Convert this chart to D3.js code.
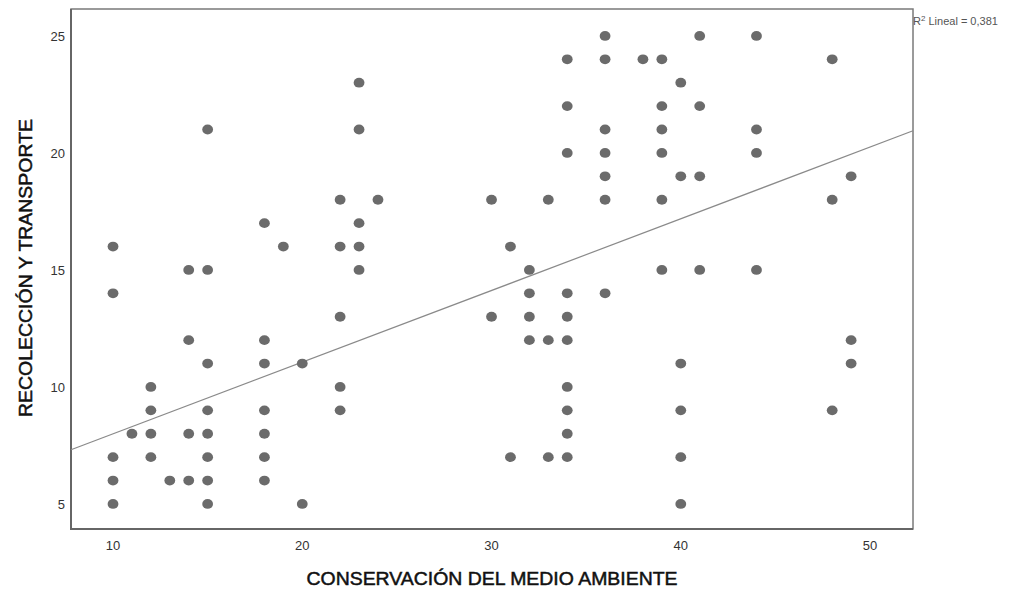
<!DOCTYPE html>
<html>
<head>
<meta charset="utf-8">
<script src="https://cdn.jsdelivr.net/npm/d3@7"></script>
<style>
  body { margin: 0; background: #fff; }
  svg { display: block; font-family: "Liberation Sans", Arial, sans-serif; }
</style>
</head>
<body>
<script>
// valores de CONSERVACIÓN DEL MEDIO AMBIENTE (eje x)
let conservacion = [10, 11, 12, 13, 14, 15, 18, 19, 20, 22, 23, 24, 30, 31, 32, 33, 34, 36, 38, 39, 40, 41, 44, 48, 49];
// valores de RECOLECCIÓN Y TRANSPORTE para cada x
let recoleccion = [
    [16, 14, 7, 6, 5],
    [8],
    [10, 9, 8, 7],
    [6],
    [15, 12, 8, 6],
    [21, 15, 11, 9, 8, 7, 6, 5],
    [17, 12, 11, 9, 8, 7, 6],
    [16],
    [11, 5],
    [18, 16, 13, 10, 9],
    [23, 21, 17, 16, 15],
    [18],
    [18, 13],
    [16, 7],
    [15, 14, 13, 12],
    [18, 12, 7],
    [24, 22, 20, 14, 13, 12, 10, 9, 8, 7],
    [25, 24, 21, 20, 19, 18, 14],
    [24],
    [24, 22, 21, 20, 18, 15],
    [23, 19, 11, 9, 7, 5],
    [25, 22, 19, 15],
    [25, 21, 20, 15],
    [24, 18, 9],
    [19, 12, 11]
];
let xTicks = [10, 20, 30, 40, 50];
let yTicks = [5, 10, 15, 20, 25];
// ajuste lineal
let intercepto = 4.93;
let pendiente = 0.3064;
let r2Texto = "Lineal = 0,381";

let puntos = [];
conservacion.forEach((x, i) => recoleccion[i].forEach(y => puntos.push({ x: x, y: y })));

let width = 1022;
let height = 593;
let mLeft = 71, mRight = 913, mTop = 9, mBottom = 529;

let svg = d3.select("body")
    .append("svg")
    .attr("width", width)
    .attr("height", height);

let scaleX = d3.scaleLinear()
    .domain([7.78, 52.27])
    .range([mLeft, mRight]);
let scaleY = d3.scaleLinear()
    .domain([3.93, 26.15])
    .range([mBottom, mTop]);

// marco
svg.append("rect")
    .attr("x", mLeft).attr("y", mTop)
    .attr("width", mRight - mLeft).attr("height", mBottom - mTop)
    .attr("fill", "none")
    .attr("stroke", "#7a7a7a")
    .attr("stroke-width", 1.5);
svg.append("path")
    .attr("d", `M${mLeft},${mTop}V${mBottom}H${mRight}`)
    .attr("fill", "none")
    .attr("stroke", "#666")
    .attr("stroke-width", 2);

// etiquetas de los ejes
svg.append("g").selectAll("text")
    .data(xTicks)
    .join("text")
    .attr("x", d => scaleX(d))
    .attr("y", 550)
    .attr("text-anchor", "middle")
    .attr("font-size", 13)
    .attr("fill", "#333")
    .text(d => d);
svg.append("g").selectAll("text")
    .data(yTicks)
    .join("text")
    .attr("x", 65)
    .attr("y", d => scaleY(d) + 5)
    .attr("text-anchor", "end")
    .attr("font-size", 13)
    .attr("fill", "#333")
    .text(d => d);

// línea de ajuste
let x0 = scaleX.domain()[0], x1 = scaleX.domain()[1];
svg.append("line")
    .attr("x1", scaleX(x0)).attr("y1", scaleY(intercepto + pendiente * x0))
    .attr("x2", scaleX(x1)).attr("y2", scaleY(intercepto + pendiente * x1))
    .attr("stroke", "#8a8a8a")
    .attr("stroke-width", 1.2);

// puntos
svg.append("g").selectAll("ellipse")
    .data(puntos)
    .join("ellipse")
    .attr("cx", d => scaleX(d.x))
    .attr("cy", d => scaleY(d.y))
    .attr("rx", 5.4)
    .attr("ry", 4.9)
    .attr("fill", "#6b6b6b");

// R2
let r2 = svg.append("text")
    .attr("x", 913)
    .attr("y", 25)
    .attr("font-size", 11)
    .attr("fill", "#555");
r2.append("tspan").attr("fill", "#555").text("R");
r2.append("tspan").attr("fill", "#555").attr("dy", -4).attr("font-size", 8).text("2");
r2.append("tspan").attr("fill", "#555").attr("dy", 4).text(" " + r2Texto);

// títulos
svg.append("text")
    .attr("x", 492)
    .attr("y", 585)
    .attr("text-anchor", "middle")
    .attr("font-size", 19)
    .attr("fill", "#111")
    .attr("stroke", "#111")
    .attr("stroke-width", 0.5)
    .attr("textLength", 371)
    .attr("lengthAdjust", "spacingAndGlyphs")
    .text("CONSERVACIÓN DEL MEDIO AMBIENTE");
svg.append("text")
    .attr("transform", "translate(32, 268) rotate(-90)")
    .attr("text-anchor", "middle")
    .attr("font-size", 19)
    .attr("fill", "#111")
    .attr("stroke", "#111")
    .attr("stroke-width", 0.5)
    .attr("textLength", 298)
    .attr("lengthAdjust", "spacingAndGlyphs")
    .text("RECOLECCIÓN Y TRANSPORTE");
</script>
</body>
</html>
